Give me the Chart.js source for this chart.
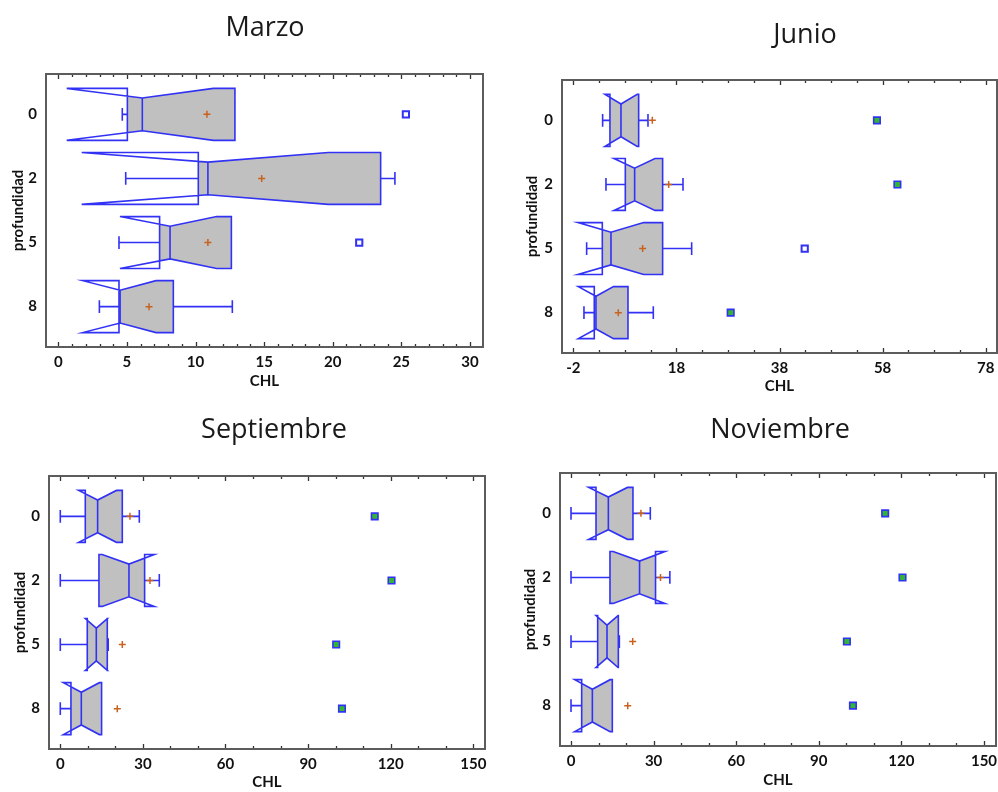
<!DOCTYPE html>
<html>
<head>
<meta charset="utf-8">
<title>CHL por profundidad</title>
<script src="https://cdn.jsdelivr.net/npm/chart.js@4.4.1/dist/chart.umd.min.js"></script>
<style>
    html, body { margin: 0; padding: 0; background: #fff; overflow: hidden; }
    body { position: relative; width: 998px; height: 792px; }
    canvas { position: absolute; }
</style>
</head>
<body>
<canvas id="marzoChart" width="520" height="396" style="left:0;top:0"></canvas>
<canvas id="junioChart" width="520" height="396" style="left:499px;top:0"></canvas>
<canvas id="septiembreChart" width="520" height="396" style="left:0;top:396px"></canvas>
<canvas id="noviembreChart" width="520" height="396" style="left:499px;top:396px"></canvas>
<script>
// Notched box-and-whisker plots of CHL by depth, one panel per month
const months = ['Marzo', 'Junio', 'Septiembre', 'Noviembre'];
const depths = ['0', '2', '5', '8'];

// one row per month, one value per depth
const whiskerLow = [
    [4.66, 4.91, 4.42, 2.99],
    [3.69, 4.34, 0.59, 0.07],
    [0, 0, 0, 0],
    [0, 0, 0, 0]
];
const quartile1 = [
    [5.03, 10.2, 7.38, 4.42],
    [5.11, 8.09, 3.63, 2.07],
    [9.08, 14.04, 9.8, 3.87],
    [9.08, 14.15, 9.68, 3.87]
];
const medians = [
    [6.12, 10.9, 8.14, 4.5],
    [7.25, 9.9, 5.31, 2.4],
    [13.56, 24.94, 13.08, 7.63],
    [13.56, 24.9, 13.07, 7.75]
];
const quartile3 = [
    [12.87, 23.49, 12.61, 8.38],
    [10.68, 15.33, 15.33, 8.61],
    [22.52, 30.63, 17.07, 15.0],
    [22.5, 30.7, 17.19, 15.0]
];
const whiskerHigh = [
    [12.87, 24.53, 12.61, 12.68],
    [12.49, 19.28, 20.96, 13.52],
    [28.7, 35.96, 17.4, 15.0],
    [28.8, 35.9, 17.55, 15.0]
];
const notchLow = [
    [0.61, 1.7, 4.49, 1.77],
    [4.14, 5.89, -1.09, -1.03],
    [6.66, 15.2, 9.08, 1.09],
    [6.4, 15.3, 9.08, 1.33]
];
const notchHigh = [
    [11.3, 19.67, 11.54, 7.12],
    [10.4, 13.85, 11.65, 5.8],
    [20.4, 34.14, 17.1, 14.2],
    [20.5, 34.1, 17.1, 14.2]
];
const means = [
    [10.83, 14.82, 10.9, 6.61],
    [13.33, 16.5, 11.45, 6.73],
    [25.3, 32.57, 22.52, 20.7],
    [25.4, 32.5, 22.4, 20.6]
];
// [depth index, value]
const outsidePoints = [
    [[0, 25.33], [2, 21.93]],
    [[2, 42.89]],
    [],
    []
];
const farOutsidePoints = [
    [],
    [[0, 56.9], [1, 60.87], [3, 28.53]],
    [[0, 114.2], [1, 120.3], [2, 100.2], [3, 102.3]],
    [[0, 114.1], [1, 120.4], [2, 100.2], [3, 102.4]]
];

const xTicks = [
    [0, 5, 10, 15, 20, 25, 30],
    [-2, 18, 38, 58, 78],
    [0, 30, 60, 90, 120, 150],
    [0, 30, 60, 90, 120, 150]
];
const xMinorStep = [1, 5, 10, 10];
const xMin = [-0.9, -4.19, -4.1, -4.0];
const xMax = [30.95, 80.19, 154.25, 154.36];

// panel placement inside each canvas: frame = [left, top, right, bottom]
const panels = [
    { id: 'marzoChart', frame: [46, 74, 483, 347], title: [265, 36], yTitleX: 18.5, xTitleY: 381.5 },
    { id: 'junioChart', frame: [63, 80, 498, 353], title: [306, 43], yTitleX: 33, xTitleY: 386.5 },
    { id: 'septiembreChart', frame: [49, 80, 485, 353], title: [274, 41.5], yTitleX: 20, xTitleY: 386.5 },
    { id: 'noviembreChart', frame: [61, 77, 497, 350], title: [281, 42], yTitleX: 31, xTitleY: 384 }
];
const CANVAS_H = 396;
const CANVAS_W = 520;

const BOX_LINE = '#3232f5';
const BOX_FILL = '#c0c0c0';
const MEAN_COLOR = '#c8621e';
const BOX_HALF = 0.405;     // half box thickness, in category units
const NOTCH_RATIO = 0.63;   // box thickness kept at the median
const CAP_HALF = 0.1;

const labelFont = { family: 'Lato', weight: 'bold', size: 15 };
const HALF_LINE = 9;        // half of the label line height (15px * 1.2)

const notchedBoxPlugin = {
    id: 'notchedBoxes',
    beforeDatasetsDraw(chart, args, opts) {
        const m = opts.month;
        const { ctx } = chart;
        const x = chart.scales.x, y = chart.scales.y;
        const px = v => x.getPixelForValue(v);
        ctx.save();
        ctx.lineWidth = 1.6;
        ctx.strokeStyle = BOX_LINE;
        ctx.lineJoin = 'miter';
        depths.forEach((d, i) => {
            const top = y.getPixelForValue(i - BOX_HALF);
            const bot = y.getPixelForValue(i + BOX_HALF);
            const inTop = y.getPixelForValue(i - BOX_HALF * NOTCH_RATIO);
            const inBot = y.getPixelForValue(i + BOX_HALF * NOTCH_RATIO);
            const capTop = y.getPixelForValue(i - CAP_HALF);
            const capBot = y.getPixelForValue(i + CAP_HALF);
            const cy = y.getPixelForValue(i);

            const q1 = px(quartile1[m][i]);
            const q3 = px(quartile3[m][i]);
            const med = px(medians[m][i]);
            const nLo = px(notchLow[m][i]);
            const nHi = px(notchHigh[m][i]);
            const wLo = px(whiskerLow[m][i]);
            const wHi = px(whiskerHigh[m][i]);

            // whiskers with end caps
            ctx.beginPath();
            if (wLo < q1 - 0.5) {
                ctx.moveTo(wLo, cy); ctx.lineTo(q1, cy);
                ctx.moveTo(wLo, capTop); ctx.lineTo(wLo, capBot);
            }
            if (wHi > q3 + 0.5) {
                ctx.moveTo(q3, cy); ctx.lineTo(wHi, cy);
                ctx.moveTo(wHi, capTop); ctx.lineTo(wHi, capBot);
            }
            ctx.stroke();

            // notched outline (folds back when the notch passes a hinge)
            const outline = () => {
                ctx.beginPath();
                ctx.moveTo(q1, bot);
                ctx.lineTo(q1, top);
                ctx.lineTo(nLo, top);
                ctx.lineTo(med, inTop);
                ctx.lineTo(nHi, top);
                ctx.lineTo(q3, top);
                ctx.lineTo(q3, bot);
                ctx.lineTo(nHi, bot);
                ctx.lineTo(med, inBot);
                ctx.lineTo(nLo, bot);
                ctx.closePath();
            };

            ctx.save();
            ctx.beginPath();
            ctx.rect(q1, top, q3 - q1, bot - top);
            ctx.clip();
            outline();
            ctx.fillStyle = BOX_FILL;
            ctx.fill();
            ctx.restore();

            outline();
            ctx.stroke();

            ctx.beginPath();
            ctx.moveTo(med, inTop);
            ctx.lineTo(med, inBot);
            ctx.stroke();
        });
        ctx.restore();
    }
};

const frameTicksPlugin = {
    id: 'frameTicks',
    afterDraw(chart, args, opts) {
        const m = opts.month;
        const { ctx, chartArea: a } = chart;
        const x = chart.scales.x;
        ctx.save();
        ctx.strokeStyle = '#333';
        ctx.lineWidth = 1.3;
        ctx.beginPath();
        const first = xTicks[m][0];
        const step = xMinorStep[m];
        for (let k = 0; first + k * step <= x.max; k++) {
            const v = first + k * step;
            const p = Math.round(x.getPixelForValue(v)) + 0.5;
            const len = xTicks[m].includes(v) ? 5 : 3;
            ctx.moveTo(p, a.top); ctx.lineTo(p, a.top + len);
            ctx.moveTo(p, a.bottom); ctx.lineTo(p, a.bottom - len);
        }
        ctx.stroke();
        ctx.strokeStyle = '#5c5c5c';
        ctx.lineWidth = 2;
        ctx.strokeRect(a.left, a.top, a.right - a.left, a.bottom - a.top);
        ctx.restore();
    }
};

const monthTitlePlugin = {
    id: 'monthTitle',
    afterDraw(chart, args, opts) {
        const { ctx } = chart;
        ctx.save();
        ctx.font = '27px "Open Sans"';
        ctx.fillStyle = '#1a1a1a';
        ctx.textAlign = 'center';
        ctx.textBaseline = 'alphabetic';
        ctx.fillText(opts.text, opts.x, opts.y);
        ctx.restore();
    }
};

function buildChart(m) {
    const p = panels[m];
    const ctx = document.getElementById(p.id);
    const toPoints = list => list.map(([i, v]) => ({ x: v, y: i }));

    new Chart(ctx.getContext('2d'), {
        type: 'scatter',
        data: {
            datasets: [
                {
                    label: 'Media',
                    data: depths.map((d, i) => ({ x: means[m][i], y: i })),
                    pointStyle: 'cross',
                    radius: 3.5,
                    borderColor: MEAN_COLOR,
                    borderWidth: 1.5
                },
                {
                    label: 'Fuera',
                    data: toPoints(outsidePoints[m]),
                    pointStyle: 'rect',
                    radius: 4.4,
                    borderColor: BOX_LINE,
                    backgroundColor: '#ffffff',
                    borderWidth: 2
                },
                {
                    label: 'Muy fuera',
                    data: toPoints(farOutsidePoints[m]),
                    pointStyle: 'rect',
                    radius: 4.6,
                    borderColor: BOX_LINE,
                    backgroundColor: '#33b533',
                    borderWidth: 1.6
                },
                {
                    label: 'Muy fuera (marca)',
                    data: toPoints(farOutsidePoints[m]),
                    pointStyle: 'cross',
                    radius: 2,
                    borderColor: '#1c6e1c',
                    borderWidth: 1
                }
            ]
        },
        options: {
            responsive: false,
            animation: false,
            events: [],
            layout: {
                padding: { left: 0, top: p.frame[1], right: CANVAS_W - p.frame[2], bottom: 0 }
            },
            plugins: {
                legend: { display: false },
                tooltip: { enabled: false },
                notchedBoxes: { month: m },
                frameTicks: { month: m },
                monthTitle: { text: months[m], x: p.title[0], y: p.title[1] }
            },
            scales: {
                x: {
                    type: 'linear',
                    min: xMin[m],
                    max: xMax[m],
                    afterBuildTicks: s => { s.ticks = xTicks[m].map(v => ({ value: v })); },
                    afterFit: s => { s.height = CANVAS_H - p.frame[3]; },
                    grid: { display: false, drawTicks: false },
                    border: { display: false },
                    ticks: {
                        autoSkip: false,
                        maxRotation: 0,
                        padding: 6,
                        font: labelFont,
                        color: '#111'
                    },
                    title: {
                        display: true,
                        text: 'CHL',
                        font: labelFont,
                        color: '#111',
                        padding: { top: 0, bottom: CANVAS_H - p.xTitleY - HALF_LINE }
                    }
                },
                y: {
                    type: 'linear',
                    reverse: true,
                    min: -0.63,
                    max: 3.63,
                    afterBuildTicks: s => { s.ticks = depths.map((d, i) => ({ value: i })); },
                    afterFit: s => { s.width = p.frame[0]; },
                    grid: { display: false, drawTicks: false },
                    border: { display: false },
                    ticks: {
                        autoSkip: false,
                        padding: 9,
                        font: labelFont,
                        color: '#111',
                        callback: v => depths[v]
                    },
                    title: {
                        display: true,
                        text: 'profundidad',
                        font: labelFont,
                        color: '#111',
                        padding: { top: p.yTitleX - HALF_LINE, bottom: 0 }
                    }
                }
            }
        },
        plugins: [notchedBoxPlugin, frameTicksPlugin, monthTitlePlugin]
    });
}

document.addEventListener('DOMContentLoaded', () => {
    months.forEach((name, m) => buildChart(m));
});
</script>
</body>
</html>
